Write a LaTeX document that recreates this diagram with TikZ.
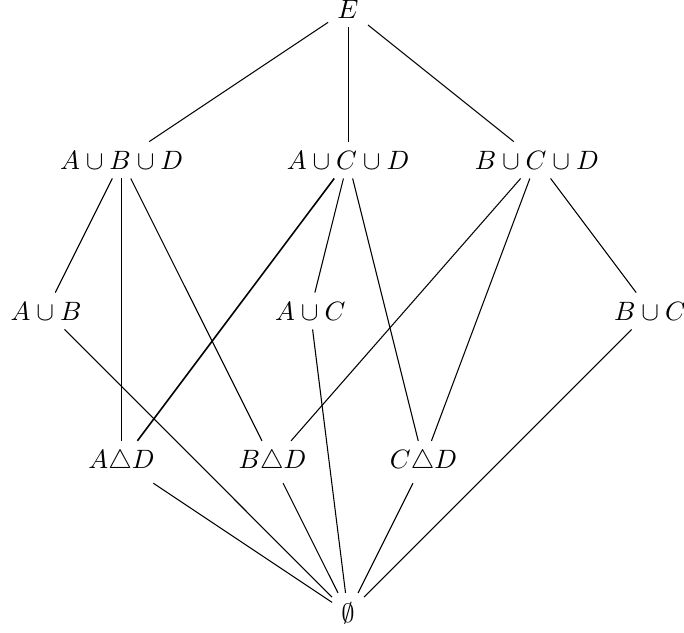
\documentclass[tikz,border=0pt]{standalone}
\usepackage{amssymb}
\begin{document}
\begin{tikzpicture}
      \useasboundingbox (-4.61,-0.26) rectangle (4.45,8.12);
      \node(E) at ( 0.00, 8.00){$E$};
      \node(ABD) at (-3.00, 6.00){$A\cup B\cup D$};
      \node(ACD) at ( 0.00, 6.00){$A\cup C\cup D$};
      \node(BCD) at ( 2.50, 6.00){$B\cup C\cup D$};
      \node(AB) at (-4.00, 4.00){$A\cup B$};
      \node(AC) at (-0.50, 4.00){$A\cup C$};
      \node(BC) at ( 4.00, 4.00){$B\cup C$};
      \node(AD) at (-3.00, 2.00){$A\triangle D$};
      \node(BD) at (-1.00, 2.00){$B\triangle D$};
      \node(CD) at ( 1.00, 2.00){$C\triangle D$};
      \node(O) at ( 0.00, 0.00){$\emptyset$};

      \draw (E) -- (ABD);
      \draw (E) -- (ACD);
      \draw (E) -- (BCD);
      \draw (ABD) -- (AB);
      \draw (ABD) -- (AD);
      \draw (ABD) -- (BD);
      \draw[semithick] (ACD) -- (AD);
      \draw (ACD) -- (AC);
      \draw (ACD) -- (CD);
      \draw (BCD) -- (BD);
      \draw (BCD) -- (CD);
      \draw (BCD) -- (BC);
      \draw (AB) -- (O);
      \draw (AC) -- (O);
      \draw (BC) -- (O);
      \draw (AD) -- (O);
      \draw (BD) -- (O);
      \draw (CD) -- (O);
    \end{tikzpicture}
\end{document}
